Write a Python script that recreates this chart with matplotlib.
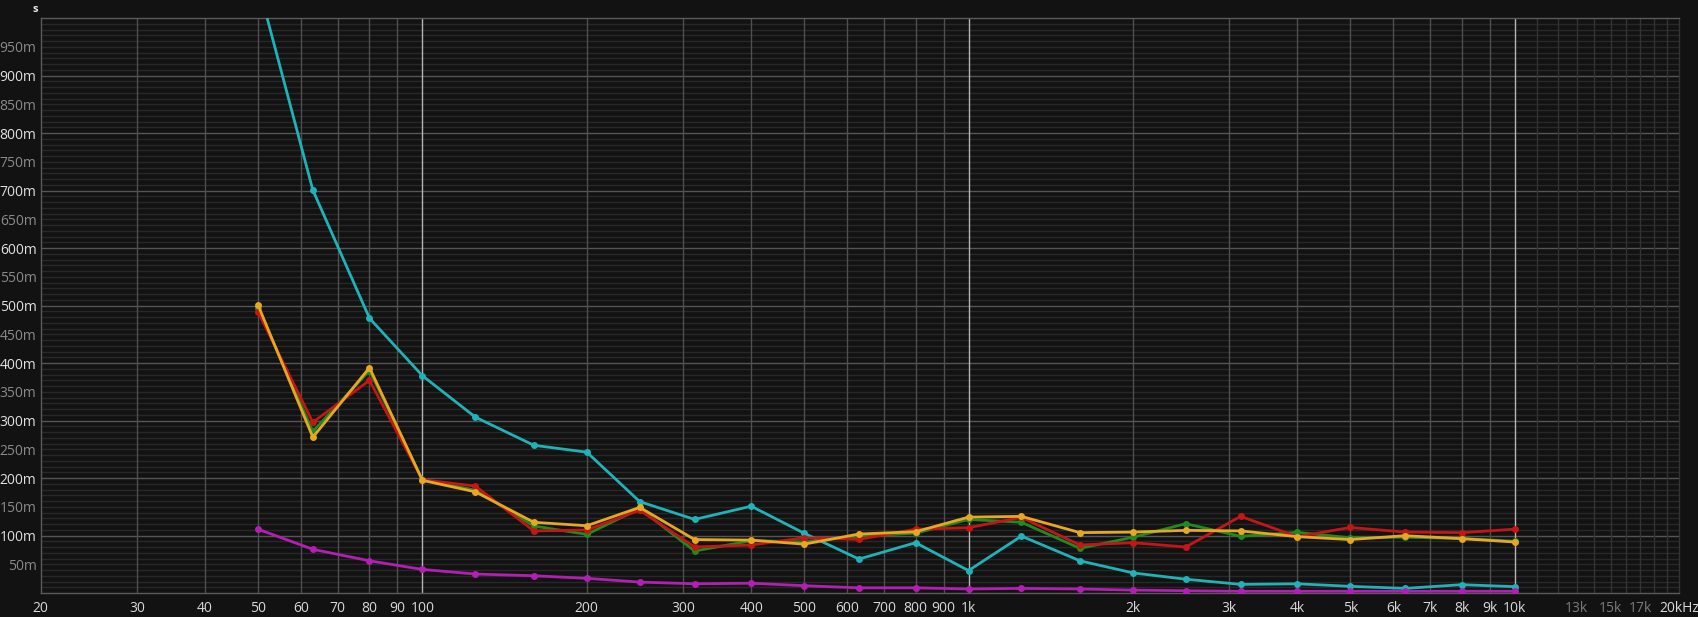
"""Decay time per 1/3-octave band, dark analyser style."""

import matplotlib

matplotlib.use("Agg", force=True)
import matplotlib.pyplot as plt
import numpy as np

# band centre frequencies (Hz)
freqs = [50, 63, 80, 100, 125, 160, 200, 250, 315, 400, 500, 630, 800,
         1000, 1250, 1600, 2000, 2500, 3150, 4000, 5000, 6300, 8000, 10000]

# values in seconds
cyan = [1.06, 0.701, 0.478, 0.378, 0.306, 0.257, 0.245, 0.159, 0.128, 0.151,
        0.104, 0.059, 0.0875, 0.039, 0.099, 0.056, 0.035, 0.024, 0.015, 0.016,
        0.0116, 0.008, 0.0145, 0.011]
magenta = [0.111, 0.076, 0.056, 0.041, 0.033, 0.030, 0.0255, 0.019, 0.016, 0.017,
           0.0127, 0.009, 0.009, 0.007, 0.008, 0.007, 0.005, 0.004, 0.003, 0.003,
           0.003, 0.003, 0.003, 0.003]
green = [0.496, 0.281, 0.387, 0.197, 0.179, 0.1165, 0.102, 0.147, 0.073, 0.091,
         0.089, 0.099, 0.104, 0.128, 0.123, 0.0777, 0.097, 0.1206, 0.0986, 0.1055,
         0.096, 0.097, 0.095, 0.090]
red = [0.489, 0.297, 0.370, 0.197, 0.186, 0.108, 0.1096, 0.144, 0.080, 0.0835,
       0.096, 0.0933, 0.111, 0.1136, 0.1316, 0.0835, 0.0875, 0.080, 0.1333, 0.098,
       0.114, 0.106, 0.105, 0.111]
yellow = [0.501, 0.271, 0.392, 0.196, 0.176, 0.123, 0.117, 0.149, 0.093, 0.092,
          0.085, 0.1026, 0.1066, 0.132, 0.1333, 0.105, 0.106, 0.109, 0.108, 0.098,
          0.093, 0.0997, 0.0945, 0.0887]

series = [
    (cyan, "#1fb2b6"),
    (magenta, "#b21fb2"),
    (green, "#1f8a1f"),
    (red, "#c41616"),
    (yellow, "#e6a823"),
]

x_ticks = [20, 30, 40, 50, 60, 70, 80, 90, 100, 200, 300, 400, 500, 600, 700, 800,
           900, 1000, 2000, 3000, 4000, 5000, 6000, 7000, 8000, 9000, 10000,
           13000, 15000, 17000, 20000]
x_labels = ["20", "30", "40", "50", "60", "70", "80", "90", "100", "200", "300",
            "400", "500", "600", "700", "800", "900", "1k", "2k", "3k", "4k", "5k",
            "6k", "7k", "8k", "9k", "10k", "13k", "15k", "17k", "20kHz"]
dim_x_labels = ["13k", "15k", "17k"]

y_ticks = np.arange(0.05, 0.951, 0.05)
y_labels = [f"{int(round(v * 1000))}m" for v in y_ticks]

BG = "#121212"
FONT = ["Open Sans", "DejaVu Sans"]

fig = plt.figure(figsize=(16.99, 6.17), dpi=100, facecolor=BG)
ax = fig.add_axes([0.02396, 0.0389, 0.96427, 0.9316])
ax.set_facecolor(BG)
ax.set_xscale("log")
ax.set_xlim(20, 20000)
ax.set_ylim(0, 1.0)

# grid: horizontal minor every 10 ms, major every 100 ms
for v in np.arange(0.01, 1.0, 0.01):
    major = abs(v * 10 - round(v * 10)) < 1e-6
    ax.axhline(v, color="#555555" if major else "#282828", lw=1.0, zorder=0)

# vertical lines: 1-2-3... per decade, brighter at decades, dim above 10k
for dec in [10, 100, 1000, 10000]:
    for k in range(1, 10):
        f = dec * k
        if f <= 20 or f >= 20000:
            continue
        if f in (100, 1000, 10000):
            color = "#b5b5b5"
        elif f > 10000:
            color = "#333333"
        else:
            color = "#4f4f4f"
        ax.axvline(f, color=color, lw=1.0, zorder=0)
for f in range(11000, 20000, 1000):
    if f % 10000:
        ax.axvline(f, color="#333333", lw=1.0, zorder=0)

for values, color in series:
    ax.plot(freqs, values, color=color, lw=2.0, marker="o", markersize=5,
            markeredgewidth=0, zorder=3)

ax.set_xticks(x_ticks)
ax.set_xticklabels(x_labels)
ax.minorticks_off()
ax.set_yticks(y_ticks)
ax.set_yticklabels(y_labels)
ax.tick_params(axis="both", length=0, labelsize=10)
ax.tick_params(axis="x", pad=6)
ax.tick_params(axis="y", pad=3)

for lab in ax.get_xticklabels():
    lab.set_family(FONT)
    lab.set_color("#7a7a7a" if lab.get_text() in dim_x_labels else "#d8d8d8")
for lab, v in zip(ax.get_yticklabels(), y_ticks):
    lab.set_family(FONT)
    hundred = abs(v * 10 - round(v * 10)) < 1e-6
    lab.set_color("#e0e0e0" if hundred else "#8a8a8a")

for side in ["left", "bottom", "top", "right"]:
    ax.spines[side].set_color("#5a5a5a")
    ax.spines[side].set_linewidth(1.0)
ax.spines["right"].set_color("#333333")

fig.text(35 / 1699, 1 - 9 / 617, "s", color="#e8e8e8", fontsize=8,
         fontweight="bold", family=FONT, ha="center", va="center")

fig.savefig("out.png", dpi=100, facecolor=BG)
